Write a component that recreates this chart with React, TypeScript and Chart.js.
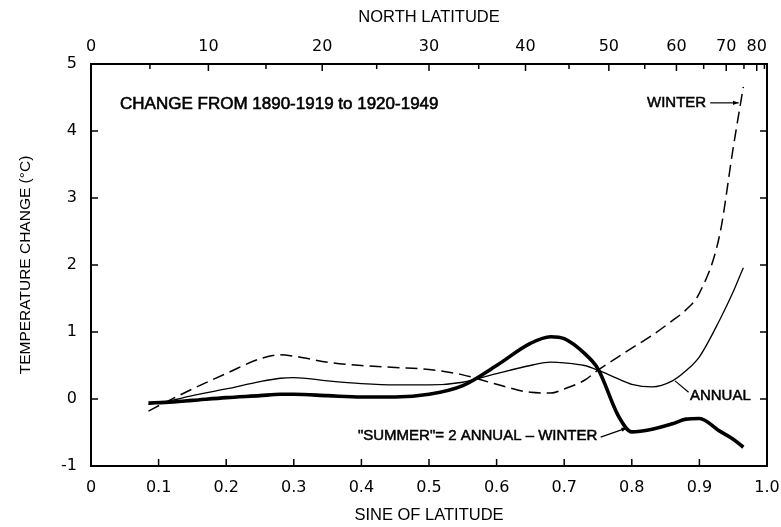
import React, { useEffect, useRef } from "react";
import { Chart, registerables } from "chart.js";

Chart.register(...registerables);

const FONT = '"Liberation Sans", Arial, sans-serif';
const TICKFONT = '"DejaVu Sans", "Liberation Sans", sans-serif';

// Sine of latitude (x positions of the curves)
const sineLat = [0.085, 0.11, 0.15, 0.2, 0.25, 0.28, 0.3, 0.35, 0.4, 0.45, 0.5, 0.55, 0.6, 0.65, 0.68, 0.7, 0.73, 0.75, 0.78, 0.8, 0.83, 0.86, 0.88, 0.9, 0.93, 0.95, 0.965];

// Temperature change (°C)
const winter = [-0.18, -0.05, 0.15, 0.38, 0.6, 0.66, 0.64, 0.55, 0.5, 0.47, 0.44, 0.36, 0.22, 0.1, 0.09, 0.15, 0.28, 0.43, 0.63, 0.76, 0.95, 1.17, 1.33, 1.58, 2.45, 3.75, 4.66];
const annual = [-0.08, -0.04, 0.05, 0.15, 0.26, 0.31, 0.32, 0.27, 0.23, 0.21, 0.21, 0.25, 0.38, 0.5, 0.55, 0.54, 0.5, 0.43, 0.3, 0.22, 0.18, 0.27, 0.42, 0.63, 1.18, 1.6, 1.96];
const summer = [-0.06, -0.05, -0.02, 0.02, 0.05, 0.07, 0.07, 0.05, 0.03, 0.03, 0.07, 0.2, 0.5, 0.83, 0.93, 0.9, 0.68, 0.45, -0.25, -0.49, -0.45, -0.37, -0.3, -0.29, -0.48, -0.6, -0.72];

// Axis tick labels
const sineTicks = [0, 0.1, 0.2, 0.3, 0.4, 0.5, 0.6, 0.7, 0.8, 0.9, 1.0];
const latTicks = [0, 10, 20, 30, 40, 50, 60, 70, 80];
const latMinorTicks = [5, 15, 25, 35, 45, 55, 65, 75, 85];
const tempTicks = [-1, 0, 1, 2, 3, 4, 5];

const TITLE = "CHANGE FROM 1890-1919 to 1920-1949";

const toPts = (ys: number[]) => sineLat.map((x, i) => ({ x, y: ys[i] }));
const rad = (d: number) => (d * Math.PI) / 180;

const framePlugin = {
  id: "frame",
  afterDatasetsDraw(chart: any) {
    const { ctx, chartArea: a, scales } = chart;
    const xs = scales.x;
    const ys = scales.y;
    const px = (v: number) => xs.getPixelForValue(v);
    const py = (v: number) => ys.getPixelForValue(v);
    const line = (x1: number, y1: number, x2: number, y2: number) => {
      ctx.beginPath();
      ctx.moveTo(x1, y1);
      ctx.lineTo(x2, y2);
      ctx.stroke();
    };
    ctx.save();
    ctx.strokeStyle = "#000";
    ctx.fillStyle = "#000";
    ctx.lineWidth = 2;
    ctx.strokeRect(a.left, a.top, a.right - a.left, a.bottom - a.top);
    ctx.lineWidth = 1.5;
    // bottom ticks (inward)
    sineTicks.forEach((v) => line(px(v), a.bottom, px(v), a.bottom - 7));
    // top ticks (inward)
    latTicks.forEach((l) => line(px(Math.sin(rad(l))), a.top, px(Math.sin(rad(l))), a.top + 7));
    latMinorTicks.forEach((l) => line(px(Math.sin(rad(l))), a.top, px(Math.sin(rad(l))), a.top + 5));
    // left and right ticks
    tempTicks.forEach((t) => {
      line(a.left, py(t), a.left + 7, py(t));
      line(a.right, py(t), a.right - 7, py(t));
    });

    const boldText = (s: string, x: number, y: number, w: number) => {
      ctx.fillText(s, x, y);
      ctx.lineWidth = w;
      ctx.strokeText(s, x, y);
    };

    // annotations
    ctx.font = `17px ${FONT}`;
    ctx.textBaseline = "middle";
    ctx.textAlign = "left";
    boldText(TITLE, px(0.043), py(4.4), 0.6);

    ctx.font = `15px ${FONT}`;
    const arrow = (x1: number, y1: number, x2: number, y2: number) => {
      ctx.lineWidth = 1.2;
      line(x1, y1, x2, y2);
      const ang = Math.atan2(y2 - y1, x2 - x1);
      ctx.beginPath();
      ctx.moveTo(x2, y2);
      ctx.lineTo(x2 - 6 * Math.cos(ang - 0.35), y2 - 6 * Math.sin(ang - 0.35));
      ctx.lineTo(x2 - 6 * Math.cos(ang + 0.35), y2 - 6 * Math.sin(ang + 0.35));
      ctx.closePath();
      ctx.fill();
    };
    // WINTER
    ctx.textAlign = "right";
    boldText("WINTER", px(0.91), py(4.42), 0.5);
    arrow(px(0.916), py(4.42), px(0.958), py(4.42));
    // ANNUAL
    ctx.textAlign = "left";
    boldText("ANNUAL", px(0.886), py(0.04), 0.5);
    ctx.lineWidth = 1.2;
    line(px(0.864), py(0.27), px(0.884), py(0.1));
    // SUMMER
    ctx.textAlign = "right";
    boldText('"SUMMER"= 2 ANNUAL \u2013 WINTER', px(0.749), py(-0.55), 0.5);
    arrow(px(0.754), py(-0.57), px(0.793), py(-0.43));
    ctx.restore();
  },
};

export default function App() {
  const ref = useRef<HTMLCanvasElement | null>(null);
  useEffect(() => {
    document.body.style.margin = "0";
    const canvas = ref.current!;
    const tickFont = { family: TICKFONT, size: 16 };
    const titleFont = { family: FONT, size: 16.5 };
    const chart = new Chart(canvas, {
      type: "line",
      data: {
        datasets: [
          {
            label: "Winter",
            data: toPts(winter),
            borderColor: "#000",
            borderWidth: 1.5,
            borderDash: [12, 6],
            pointRadius: 0,
            cubicInterpolationMode: "monotone",
            fill: false,
          },
          {
            label: "Annual",
            data: toPts(annual),
            borderColor: "#000",
            borderWidth: 1.3,
            pointRadius: 0,
            cubicInterpolationMode: "monotone",
            fill: false,
          },
          {
            label: "Summer",
            data: toPts(summer),
            borderColor: "#000",
            borderWidth: 3.6,
            pointRadius: 0,
            cubicInterpolationMode: "monotone",
            fill: false,
          },
        ],
      },
      options: {
        animation: false,
        responsive: false,
        layout: { padding: { left: 0, right: 14, top: 0, bottom: 0 } },
        plugins: { legend: { display: false }, tooltip: { enabled: false } },
        scales: {
          x: {
            type: "linear",
            position: "bottom",
            min: 0,
            max: 1,
            grid: { display: false, drawTicks: false },
            border: { display: false },
            afterBuildTicks: (s: any) => {
              s.ticks = sineTicks.map((v) => ({ value: v }));
            },
            ticks: {
              autoSkip: false,
              maxRotation: 0,
              padding: 12,
              color: "#000",
              font: tickFont,
              callback: (v: any) => (v === 0 ? "0" : Number(v).toFixed(1)),
            },
            title: {
              display: true,
              text: "SINE OF LATITUDE",
              color: "#000",
              font: titleFont,
              padding: { top: 0, bottom: 2 },
            },
            afterFit: (s: any) => {
              s.height = 61;
              s.paddingLeft = 0;
              s.paddingRight = 0;
            },
          },
          xTop: {
            type: "linear",
            position: "top",
            min: 0,
            max: 1,
            grid: { display: false, drawTicks: false },
            border: { display: false },
            afterBuildTicks: (s: any) => {
              s.ticks = latTicks.map((l) => ({ value: Math.sin(rad(l)) }));
            },
            ticks: {
              autoSkip: false,
              maxRotation: 0,
              padding: 8,
              color: "#000",
              font: tickFont,
              callback: (_v: any, i: number) => String(latTicks[i]),
            },
            title: {
              display: true,
              text: "NORTH LATITUDE",
              color: "#000",
              font: titleFont,
              padding: { top: 8, bottom: 0 },
            },
            afterFit: (s: any) => {
              s.height = 64;
              s.paddingLeft = 0;
              s.paddingRight = 0;
            },
          },
          y: {
            type: "linear",
            position: "left",
            min: -1,
            max: 5,
            grid: { display: false, drawTicks: false },
            border: { display: false },
            afterBuildTicks: (s: any) => {
              s.ticks = tempTicks.map((v) => ({ value: v }));
            },
            ticks: {
              autoSkip: false,
              padding: 14,
              color: "#000",
              font: tickFont,
              callback: (v: any) => String(v),
            },
            title: {
              display: true,
              text: "TEMPERATURE CHANGE (\u00B0C)",
              color: "#000",
              font: { family: FONT, size: 15.5 },
              padding: { top: 16, bottom: 0 },
            },
            afterFit: (s: any) => {
              s.width = 91;
              s.paddingTop = 0;
              s.paddingBottom = 0;
            },
          },
        },
      },
      plugins: [framePlugin],
    });
    return () => chart.destroy();
  }, []);
  return (
    <canvas
      ref={ref}
      width={781}
      height={527}
      style={{ position: "fixed", left: 0, top: 0, display: "block", background: "#fff" }}
    />
  );
}
